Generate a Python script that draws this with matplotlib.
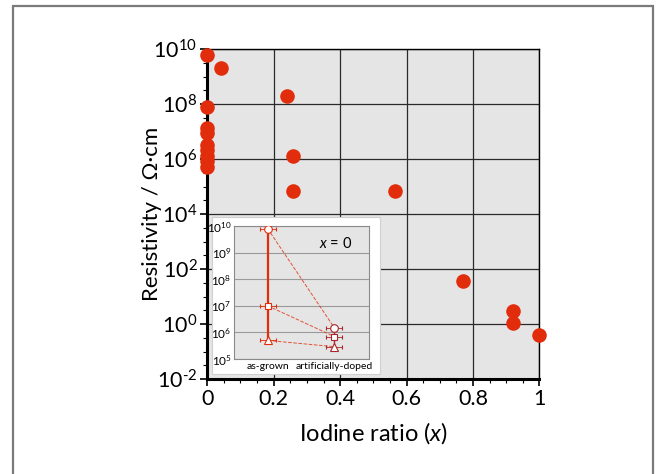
import numpy as np
import matplotlib.pyplot as plt
from matplotlib.ticker import FixedLocator, NullFormatter
from matplotlib.patches import Rectangle

plt.rcParams['font.family'] = ['Lato', 'DejaVu Sans']
plt.rcParams['mathtext.fontset'] = 'custom'
plt.rcParams['mathtext.rm'] = 'Lato'
plt.rcParams['mathtext.it'] = 'Lato:italic'

# main data: iodine ratio vs resistivity
iodine_x = [0, 0.041, 0.239, 0, 0, 0, 0, 0, 0, 0, 0, 0.259, 0.259, 0.565, 0.77, 0.921, 0.921, 1.0]
resistivity = [6e9, 2.1e9, 1.9e8, 8e7, 1.3e7, 8.5e6, 3.2e6, 2.1e6, 1.3e6, 8.5e5, 5.2e5,
               1.3e6, 7e4, 7e4, 36, 2.9, 1.1, 0.39]
x_ticks = [0, 0.2, 0.4, 0.6, 0.8, 1.0]
x_ticklabels = ['0', '0.2', '0.4', '0.6', '0.8', '1']
y_exps = ['-2', '0', '2', '4', '6', '8', '10']

# inset data (x = 0)
inset_cats = ['as-grown', 'artificially-doped']
inset_circle = [8e9, 1.5e6]
inset_square = [1e7, 7e5]
inset_triangle = [5e5, 2.9e5]

red = '#e12d0c'
dark_red = '#a8252a'

fig = plt.figure(figsize=(6.57, 4.74), dpi=100)

# outer gray frame
fig.patches.append(Rectangle((12.5 / 657, -0.1), (653 - 12.5) / 657, 1.1 - 6 / 474,
                             transform=fig.transFigure, fill=False, edgecolor='#7a7a7a',
                             linewidth=1.6))

ax = fig.add_axes([0.3155, 0.2004, 0.5054, 0.6962])
ax.set_facecolor('#e5e5e5')
ax.scatter(iodine_x, resistivity, s=110, color=red, zorder=5, clip_on=False, linewidths=0)
ax.set_yscale('log')
ax.set_xlim(0, 1)
ax.set_ylim(1e-2, 1e10)
ax.set_xticks(x_ticks)
ax.set_xticklabels(x_ticklabels)
ax.xaxis.set_minor_locator(FixedLocator(np.arange(0, 1.001, 0.05)))
ax.set_yticks([10.0 ** int(e) for e in y_exps])
# hyphen instead of minus, as in the original
ax.set_yticklabels(['10$^{\\mathregular{%s}}$' % e if e[0] != '-' else '10$^{\\text{-}\\mathregular{%s}}$' % e[1:]
                    for e in y_exps])
ax.yaxis.set_minor_locator(FixedLocator([10.0 ** (k / 2) for k in range(-4, 21)]))
ax.yaxis.set_minor_formatter(NullFormatter())
ax.grid(True, which='major', color='#2a2a2a', linewidth=0.9)
ax.set_axisbelow(True)
for side in ['left', 'bottom']:
    ax.spines[side].set_linewidth(2.2)
for side in ['top', 'right']:
    ax.spines[side].set_linewidth(1.0)
ax.tick_params(which='major', direction='out', length=5, width=1.2, labelsize=15.5, pad=2)
ax.tick_params(which='minor', direction='out', length=3, width=0.8)
ax.set_xlabel('Iodine ratio ($\\it{x}$)', fontsize=17, labelpad=8)
ax.set_ylabel('Resistivity / Ω·cm', fontsize=16, labelpad=-6)

# white box behind the inset
fig.patches.append(Rectangle((0.322, 0.211), 0.256, 0.331, transform=fig.transFigure,
                             facecolor='white', edgecolor='#d0d0d0', linewidth=0.8, zorder=3))

ins = fig.add_axes([0.3566, 0.2426, 0.2050, 0.2806], zorder=4)
ins.set_facecolor('#e5e5e5')
ins.set_yscale('log')
ins.set_ylim(1e5, 1e10)
ins.set_xlim(-0.5, 1.52)
pos = [0, 1]
ins.plot(pos, inset_circle, '--', color=red, linewidth=0.7, alpha=0.8, zorder=2)
ins.plot(pos, inset_square, '--', color=red, linewidth=0.7, alpha=0.8, zorder=2)
ins.plot(pos, inset_triangle, '--', color=red, linewidth=0.7, alpha=0.8, zorder=2)
ins.plot([0, 0], [inset_triangle[0], inset_circle[0]], '-', color=red, linewidth=1.6, zorder=3)
ins.plot([1, 1], [inset_triangle[1], inset_circle[1]], '-', color=dark_red, linewidth=1.0, zorder=3)
for i, ec in enumerate([red, dark_red]):
    for vals, mk, ms in [(inset_circle, 'o', 5.5), (inset_square, 's', 4), (inset_triangle, '^', 6)]:
        ins.errorbar(pos[i], vals[i], xerr=0.12, fmt=mk, markersize=ms, markerfacecolor='white',
                     markeredgecolor=ec, markeredgewidth=0.8, ecolor=ec, elinewidth=0.6,
                     capsize=1.5, capthick=0.6, zorder=4)
ins.set_xticks(pos)
ins.set_xticklabels(inset_cats, fontsize=7.5)
ins.yaxis.set_major_locator(FixedLocator([10.0 ** k for k in range(5, 11)]))
ins.yaxis.set_minor_formatter(NullFormatter())
ins.yaxis.set_minor_locator(FixedLocator([]))
ins.tick_params(axis='y', labelsize=8.5, length=0, pad=2)
ins.tick_params(axis='x', length=0, pad=2)
ins.grid(True, axis='y', color='#9a9a9a', linewidth=0.8)
ins.set_axisbelow(True)
for s in ins.spines.values():
    s.set_color('#8a8a8a')
    s.set_linewidth(0.8)
ins.text(0.88, 0.87, '$\\it{x}$ = 0', transform=ins.transAxes, ha='right', va='center', fontsize=10.5)

fig.savefig('out.png', dpi=100)
